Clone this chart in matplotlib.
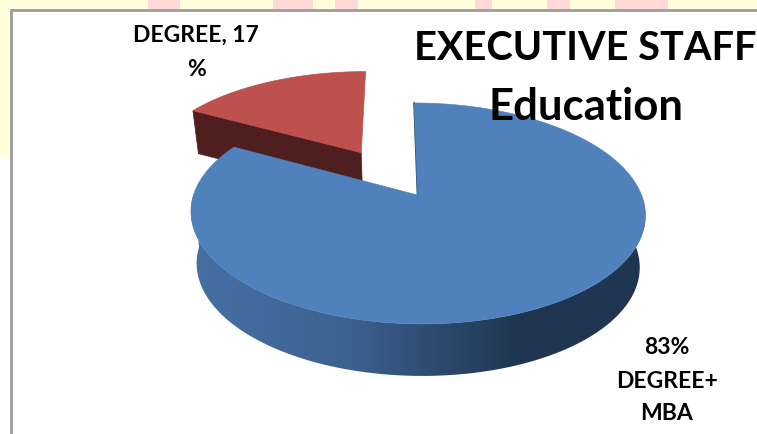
import numpy as np
import matplotlib
matplotlib.use("Agg")
import matplotlib.pyplot as plt
from matplotlib.colors import LinearSegmentedColormap
from matplotlib.patches import Polygon, Rectangle

# Share of executive staff by education level
categories = ["DEGREE+ MBA", "DEGREE"]
shares = [83, 17]
title_lines = ["EXECUTIVE STAFF", "Education"]
mba_label_lines = ["83%", "DEGREE+", "MBA"]
degree_label_lines = ["DEGREE, 17", "%"]

W, H = 757, 434
plt.rcParams["font.family"] = ["Lato", "DejaVu Sans"]

fig = plt.figure(figsize=(W / 100, H / 100), dpi=100)
ax = fig.add_axes([0, 0, 1, 1])
ax.axis("off")

# Slide backdrop behind the chart frame
ax.add_patch(Rectangle((0, 0), W, 9, fc="#FFFDDC", ec="none", zorder=0))
ax.add_patch(Rectangle((0, 0), 10, 157, fc="#FFFDDC", ec="none", zorder=0))
for x0, x1 in [(148, 180), (273, 313), (335, 358), (475, 492), (547, 570), (615, 668)]:
    ax.add_patch(Rectangle((x0, 0), x1 - x0, 9, fc="#FFD8D8", ec="none", zorder=0.5))
ax.plot([11, 11, W], [H, 10, 10], color="#9C9C9C", lw=2, solid_joinstyle="miter", zorder=1)

# Perspective projection of the pie's disc onto the slide
CX, CY = 417.5, 195.0
RX, RY, K, SKEW = 224.0, 107.4, 0.167, -4.0
DEPTH_FRONT, DEPTH_BACK, SHRINK = 52.0, 43.0, 0.975


def project(u, v, depth=0.0):
    d = 1 + K * v
    r = SHRINK if depth else 1.0
    x = CX + (RX * r * u + SKEW * v) / d
    y = CY - RY * v / d + depth
    return x, y


def wedge_outline(start, end, offset=(0.0, 0.0), depth=0.0):
    """Apex plus rim of a slice; angles run clockwise from twelve o'clock."""
    t = np.radians(np.linspace(start, end, 200))
    u = np.r_[offset[0], offset[0] + np.sin(t)]
    v = np.r_[offset[1], offset[1] + np.cos(t)]
    return np.column_stack(project(u, v, depth))


angles = 360 * np.array(shares) / sum(shares)
mba_end = angles[0]

# Exploded DEGREE slice, with its cut face visible on the near side
explode = 0.49
mid = np.radians(mba_end + angles[1] / 2)
off = (explode * np.sin(mid) - 0.012, explode * np.cos(mid))
red_top = wedge_outline(mba_end, 360, off)
red_low = wedge_outline(mba_end, 360, off, depth=DEPTH_BACK)
ax.add_patch(Polygon(np.vstack([red_top[[1, 0]], red_low[[0, 1]]]),
                     fc="#4E1F1E", ec="#4E1F1E", lw=0.5, zorder=2))
ax.add_patch(Polygon(red_top, fc="#BE504E", ec="#BE504E", lw=0.5, zorder=3))

# MBA slice: shaded rim first, flat top over it
t = np.radians(np.linspace(90, 270, 300))
ux, vy = np.sin(t), np.cos(t)
upper = np.column_stack(project(ux, vy))
lower_rim = np.column_stack(project(ux, vy, DEPTH_FRONT))
rim = Polygon(np.vstack([upper, lower_rim[::-1]]), fc="none", ec="none", zorder=4)
ax.add_patch(rim)
shade = LinearSegmentedColormap.from_list(
    "rim", [(0, "#4670A5"), (0.35, "#3D6290"), (0.45, "#355580"), (0.63, "#26405F"),
            (0.72, "#1F3551"), (1, "#1F3551")]
)
img = ax.imshow(np.linspace(0, 1, 256)[None, :], cmap=shade, aspect="auto",
                extent=(185, 650, 400, 100), zorder=4)
img.set_clip_path(rim)

blue_top = wedge_outline(0, mba_end)
ax.plot(*np.array([blue_top[0], blue_top[1]]).T, color="#26405F", lw=1.2, zorder=4.5)
ax.add_patch(Polygon(blue_top, fc="#4F81BD", ec="#4F81BD", lw=0.4, zorder=5))

# Title and data labels
text_style = dict(ha="center", va="center", weight="bold", color="black", zorder=6)
for line, y, size in zip(title_lines, [48, 107], [28.6, 31.5]):
    ax.text(585.5, y, line, fontsize=size, **text_style)
for line, y in zip(degree_label_lines, [35, 69]):
    ax.text(196, y, line, fontsize=16.5, **text_style)
for line, y in zip(mba_label_lines, [348, 382, 414]):
    ax.text(667, y, line, fontsize=16.5, **text_style)

ax.set_xlim(0, W)
ax.set_ylim(H, 0)
fig.savefig("out.png", dpi=100, facecolor="white")
